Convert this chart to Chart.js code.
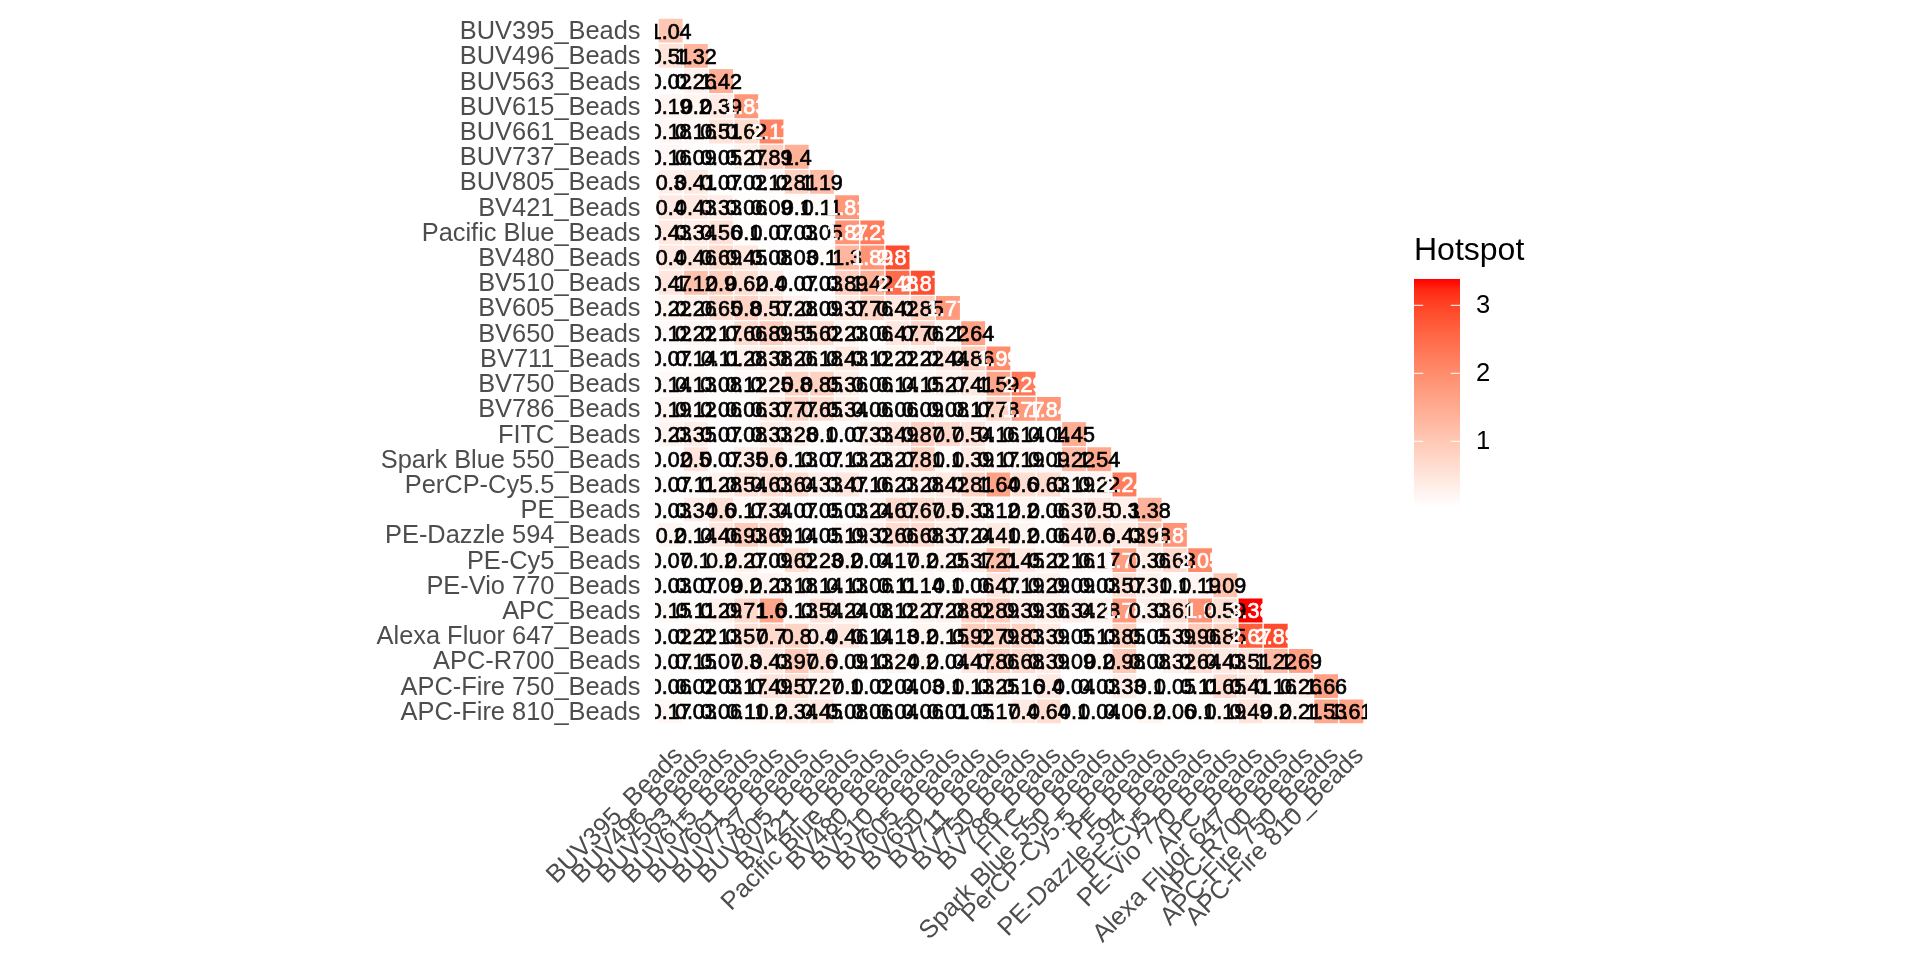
<!DOCTYPE html>
<html>
<head>
<meta charset="utf-8">
<title>Hotspot</title>
<script src="https://cdn.jsdelivr.net/npm/chart.js@4"></script>
<style>
body { margin: 0; background: #fff; }
#wrap { width: 1920px; height: 960px; }
</style>
</head>
<body>
<div id="wrap"><canvas id="hotspotChart" width="1920" height="960"></canvas></div>
<script>
const markers = ["BUV395_Beads", "BUV496_Beads", "BUV563_Beads", "BUV615_Beads", "BUV661_Beads", "BUV737_Beads", "BUV805_Beads",
    "BV421_Beads", "Pacific Blue_Beads", "BV480_Beads", "BV510_Beads", "BV605_Beads", "BV650_Beads", "BV711_Beads", "BV750_Beads",
    "BV786_Beads", "FITC_Beads", "Spark Blue 550_Beads", "PerCP-Cy5.5_Beads", "PE_Beads", "PE-Dazzle 594_Beads", "PE-Cy5_Beads",
    "PE-Vio 770_Beads", "APC_Beads", "Alexa Fluor 647_Beads", "APC-R700_Beads", "APC-Fire 750_Beads", "APC-Fire 810_Beads"];

// lower triangle, one list per row
const hotspot = [
    [1.04],
    [0.51, 1.32],
    [0.02, 0.26, 1.42],
    [0.19, 0.2, 0.39, 1.83],
    [0.18, 0.16, 0.51, 0.62, 2.11],
    [0.16, 0.09, 0.05, 0.27, 0.89, 1.4],
    [0.3, 0.41, 0.07, 0.02, 0.12, 0.81, 1.19],
    [0.4, 0.43, 0.33, 0.06, 0.09, 0.1, 0.11, 1.81],
    [0.43, 0.34, 0.56, 0.1, 0.07, 0.03, 0.05, 1.87, 2.23],
    [0.4, 0.46, 0.69, 0.45, 0.08, 0.03, 0.1, 1.3, 1.89, 2.87],
    [0.47, 1.12, 0.9, 0.62, 0.4, 0.07, 0.03, 0.89, 1.42, 2.48, 2.87],
    [0.22, 0.26, 0.65, 0.8, 0.57, 0.28, 0.09, 0.37, 0.76, 0.42, 0.85, 1.77],
    [0.12, 0.22, 0.17, 0.66, 0.89, 0.55, 0.62, 0.23, 0.06, 0.47, 0.76, 0.22, 1.64],
    [0.07, 0.14, 0.11, 0.28, 0.38, 0.26, 0.18, 0.43, 0.12, 0.22, 0.22, 0.44, 0.86, 1.99],
    [0.14, 0.13, 0.08, 0.12, 0.25, 0.8, 0.85, 0.36, 0.06, 0.14, 0.15, 0.27, 0.41, 1.59, 2.29],
    [0.19, 0.12, 0.06, 0.06, 0.37, 0.77, 0.65, 0.34, 0.06, 0.06, 0.09, 0.08, 0.17, 0.78, 1.77, 1.84],
    [0.23, 0.35, 0.07, 0.08, 0.33, 0.28, 0.1, 0.07, 0.33, 0.49, 0.87, 0.7, 0.54, 0.16, 0.14, 0.04, 1.45],
    [0.02, 0.5, 0.07, 0.35, 0.6, 0.13, 0.07, 0.13, 0.23, 0.27, 0.81, 0.1, 0.39, 0.17, 0.19, 0.09, 1.22, 1.54],
    [0.07, 0.11, 0.28, 0.54, 0.63, 0.64, 0.33, 0.47, 0.16, 0.23, 0.28, 0.42, 0.81, 1.64, 0.6, 0.63, 0.19, 0.22, 2.24],
    [0.03, 0.34, 0.6, 0.17, 0.34, 0.07, 0.05, 0.03, 0.24, 0.67, 0.67, 0.5, 0.33, 0.12, 0.2, 0.06, 0.37, 0.5, 0.3, 1.38],
    [0.2, 0.14, 0.46, 0.93, 0.69, 0.14, 0.05, 0.19, 0.32, 0.66, 0.68, 0.37, 0.24, 0.41, 0.2, 0.06, 0.47, 0.6, 0.43, 0.98, 1.87],
    [0.07, 0.1, 0.2, 0.27, 0.09, 0.62, 0.23, 0.2, 0.04, 0.17, 0.2, 0.25, 0.37, 1.21, 0.45, 0.22, 0.16, 0.17, 1.71, 0.36, 0.68, 2.05],
    [0.03, 0.07, 0.09, 0.2, 0.23, 0.18, 0.14, 0.13, 0.06, 0.11, 0.14, 0.1, 0.06, 0.47, 0.19, 0.29, 0.09, 0.03, 0.57, 0.31, 0.1, 0.19, 1.09],
    [0.15, 0.11, 0.29, 0.71, 1.6, 0.13, 0.54, 0.24, 0.08, 0.12, 0.27, 0.28, 0.82, 0.89, 0.39, 0.36, 0.34, 0.28, 1.78, 0.33, 0.61, 1.9, 0.59, 3.38],
    [0.02, 0.22, 0.13, 0.57, 0.7, 0.8, 0.4, 0.46, 0.14, 0.13, 0.2, 0.15, 0.92, 0.79, 0.83, 0.39, 0.05, 0.13, 0.85, 0.05, 0.39, 0.96, 0.85, 2.67, 2.89],
    [0.07, 0.15, 0.07, 0.3, 0.43, 0.97, 0.6, 0.09, 0.13, 0.24, 0.2, 0.04, 0.47, 0.86, 0.68, 0.39, 0.09, 0.2, 0.98, 0.08, 0.32, 0.64, 0.43, 0.51, 1.22, 1.69],
    [0.06, 0.02, 0.03, 0.17, 0.49, 0.57, 0.27, 0.1, 0.02, 0.04, 0.03, 0.1, 0.13, 0.25, 0.16, 0.4, 0.04, 0.03, 0.33, 0.1, 0.05, 0.11, 0.65, 0.41, 0.16, 0.26, 1.66],
    [0.17, 0.03, 0.06, 0.11, 0.2, 0.34, 0.45, 0.08, 0.06, 0.04, 0.06, 0.01, 0.05, 0.17, 0.4, 0.64, 0.1, 0.04, 0.06, 0.2, 0.06, 0.1, 0.19, 0.49, 0.2, 0.21, 1.53, 1.61]
];

const legendTicks = [1, 2, 3];
const fillMin = 0.04, fillMax = 3.38;
const whiteAbove = 1.7;

const cells = [];
hotspot.forEach((row, r) => row.forEach((v, c) => cells.push({ x: c, y: [r - 0.5, r + 0.5], v: v })));

// white to red through Lab, the way ggplot does a two colour gradient
function fillColor(v) {
    const t = Math.min(1, Math.max(0, (v - fillMin) / (fillMax - fillMin)));
    const L = 100 - 46.76 * t, a = 80.09 * t, b = 67.2 * t;
    const fy = (L + 16) / 116, fx = fy + a / 500, fz = fy - b / 200;
    const inv = f => f > 0.2069 ? f * f * f : (f - 16 / 116) / 7.787;
    const X = 0.95047 * inv(fx), Y = inv(fy), Z = 1.08883 * inv(fz);
    const lin = [3.2406 * X - 1.5372 * Y - 0.4986 * Z, -0.9689 * X + 1.8758 * Y + 0.0415 * Z, 0.0557 * X - 0.204 * Y + 1.057 * Z];
    const rgb = lin.map(u => {
        u = Math.min(1, Math.max(0, u));
        return Math.round(255 * (u <= 0.0031308 ? 12.92 * u : 1.055 * Math.pow(u, 1 / 2.4) - 0.055));
    });
    return `rgb(${rgb[0]},${rgb[1]},${rgb[2]})`;
}

const cellLabels = {
    id: 'cellLabels',
    afterDatasetsDraw(chart) {
        const { ctx, chartArea, scales } = chart;
        ctx.save();
        ctx.beginPath();
        ctx.rect(chartArea.left, chartArea.top, chartArea.right - chartArea.left, chartArea.bottom - chartArea.top);
        ctx.clip();
        ctx.font = '21.5px "Liberation Sans"';
        ctx.textAlign = 'center';
        ctx.textBaseline = 'middle';
        ctx.lineWidth = 0.7;
        cells.forEach(cell => {
            const x = scales.x.getPixelForValue(cell.x), y = scales.y.getPixelForValue(cell.y[0] + 0.5) + 2;
            ctx.fillStyle = ctx.strokeStyle = cell.v > whiteAbove ? '#ffffff' : '#000000';
            ctx.fillText(String(cell.v), x, y);
            ctx.strokeText(String(cell.v), x, y);
        });
        ctx.restore();
    }
};

const colourBar = {
    id: 'colourBar',
    afterDraw(chart) {
        const ctx = chart.ctx;
        const left = 1414, width = 46, top = 279, bottom = 506.7, unit = 68, y1 = 441.3;
        const yOf = v => y1 - (v - 1) * unit;
        const grad = ctx.createLinearGradient(0, bottom, 0, top);
        for (let i = 0; i <= 20; i++) {
            grad.addColorStop(i / 20, fillColor(fillMin + (fillMax - fillMin) * i / 20));
        }
        ctx.save();
        ctx.fillStyle = grad;
        ctx.fillRect(left, top, width, bottom - top);
        ctx.strokeStyle = '#ffffff';
        ctx.lineWidth = 1;
        ctx.fillStyle = '#000000';
        ctx.textBaseline = 'middle';
        ctx.textAlign = 'left';
        ctx.font = '25.6px "Liberation Sans"';
        legendTicks.forEach(v => {
            const y = yOf(v);
            ctx.beginPath();
            ctx.moveTo(left, y); ctx.lineTo(left + 9.2, y);
            ctx.moveTo(left + width - 9.2, y); ctx.lineTo(left + width, y);
            ctx.stroke();
            ctx.fillText(String(v), 1476, y + 1);
        });
        ctx.font = '32px "Liberation Sans"';
        ctx.textBaseline = 'alphabetic';
        ctx.fillText('Hotspot', 1414, 260);
        ctx.restore();
    }
};

function markerTicks(scale) {
    scale.ticks = markers.map((m, i) => ({ value: i }));
}

new Chart(document.getElementById('hotspotChart').getContext('2d'), {
    type: 'bar',
    data: {
        datasets: [{
            data: cells,
            backgroundColor: ctx => fillColor(ctx.raw.v),
            borderColor: '#ffffff',
            borderWidth: 1,
            borderSkipped: false,
            barPercentage: 1,
            categoryPercentage: 1
        }]
    },
    plugins: [cellLabels, colourBar],
    options: {
        responsive: false,
        animation: false,
        layout: { padding: { left: 0, top: 15, right: 553, bottom: 0 } },
        plugins: { legend: { display: false }, tooltip: { enabled: false } },
        scales: {
            x: {
                type: 'linear',
                offset: false,
                min: -0.62,
                max: 27.62,
                afterBuildTicks: markerTicks,
                afterFit: s => { s.height = 233; s.paddingLeft = 0; s.paddingRight = 0; },
                grid: { display: false },
                border: { display: false },
                ticks: {
                    autoSkip: false,
                    minRotation: 45,
                    maxRotation: 45,
                    padding: 6,
                    labelOffset: 8.5,
                    color: '#4D4D4D',
                    font: { family: '"Liberation Sans"', size: 25.4 },
                    callback: v => markers[v]
                }
            },
            y: {
                type: 'linear',
                reverse: true,
                min: -0.62,
                max: 27.62,
                afterBuildTicks: markerTicks,
                afterFit: s => { s.width = 655; s.paddingTop = 0; s.paddingBottom = 0; },
                grid: { display: false },
                border: { display: false },
                ticks: {
                    autoSkip: false,
                    padding: 6.5,
                    labelOffset: 1.5,
                    color: '#4D4D4D',
                    font: { family: '"Liberation Sans"', size: 25.4 },
                    callback: v => markers[v]
                }
            }
        }
    }
});
</script>
</body>
</html>
